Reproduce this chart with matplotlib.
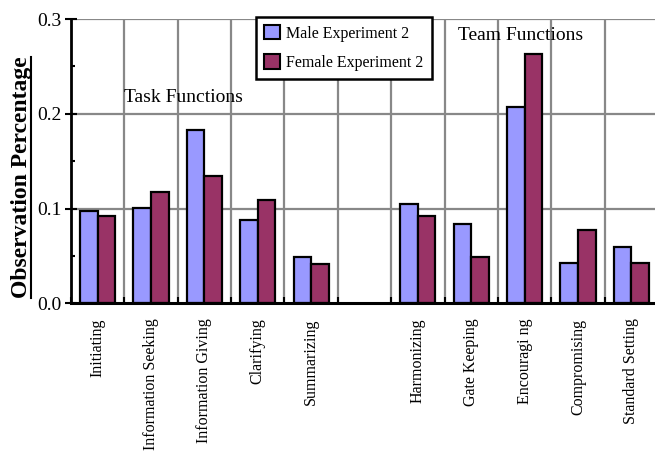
import matplotlib
matplotlib.use("Agg")
import matplotlib.pyplot as plt
from matplotlib.patches import Patch
from matplotlib.lines import Line2D
import numpy as np

plt.rcParams['font.family'] = ['Liberation Serif', 'DejaVu Serif']

categories = ["Initiating", "Information Seeking", "Information Giving", "Clarifying",
              "Summarizing", "", "Harmonizing", "Gate Keeping", "Encouragi ng",
              "Compromising", "Standard Setting"]
male = [0.097, 0.101, 0.183, 0.088, 0.049, np.nan, 0.105, 0.084, 0.207, 0.043, 0.059]
female = [0.092, 0.117, 0.134, 0.109, 0.041, np.nan, 0.092, 0.049, 0.263, 0.077, 0.043]
series_names = ["Male Experiment 2", "Female Experiment 2"]
male_color = "#9999FF"
female_color = "#993366"

fig = plt.figure(figsize=(6.55, 4.54), dpi=100)
W, H = 655, 454
ax = fig.add_axes([71 / W, 1 - 303.3 / H, 587 / W, 284.3 / H])

x = np.arange(len(categories))
bw = 0.33
ax.bar(x - bw / 2, male, bw, color=male_color, edgecolor="black", linewidth=1.6, zorder=3)
ax.bar(x + bw / 2, female, bw, color=female_color, edgecolor="black", linewidth=1.6, zorder=3)

ax.set_xlim(-0.5, len(categories) - 0.5)
ax.set_ylim(0, 0.3)

# vertical separators between categories
for b in np.arange(0.5, len(categories) - 0.5, 1.0):
    ax.axvline(b, color="#888888", linewidth=1.6, zorder=1)
for yv in [0.1, 0.2, 0.3]:
    ax.axhline(yv, color="#888888", linewidth=1.6, zorder=1)

ax.set_yticks([0.0, 0.1, 0.2, 0.3])
ax.set_yticklabels(["0.0", "0.1", "0.2", "0.3"], fontsize=14)
ax.set_yticks([0.05, 0.15, 0.25], minor=True)
ax.tick_params(axis="y", which="major", direction="inout", length=9, width=1.5, pad=2)
ax.tick_params(axis="y", which="minor", direction="in", length=3, width=1.5)

ax.set_xticks(np.arange(-0.5, len(categories), 1.0))
ax.set_xticklabels([])
ax.tick_params(axis="x", which="major", direction="in", length=4, width=1.5)
ax.set_xticks(x, minor=True)
ax.set_xticklabels(categories, minor=True, rotation=90, fontsize=11.5, va="top", ha="center")
ax.tick_params(axis="x", which="minor", length=0, pad=11)

for s in ["top", "right"]:
    ax.spines[s].set_visible(False)
ax.spines["left"].set_linewidth(2)
ax.spines["bottom"].set_linewidth(2.2)
ax.spines["left"].set_zorder(4)
ax.spines["bottom"].set_zorder(4)

ax.text(124 / W, 1 - 98 / H, "Task Functions", transform=fig.transFigure,
        fontsize=14, ha="left", va="center")
ax.text(458 / W, 1 - 35 / H, "Team Functions", transform=fig.transFigure,
        fontsize=14, ha="left", va="center")

handles = [Patch(facecolor=male_color, edgecolor="black", linewidth=1.5),
           Patch(facecolor=female_color, edgecolor="black", linewidth=1.5)]
leg = fig.legend(handles, series_names, loc="upper left",
                 bbox_to_anchor=(256 / W, 1 - 17 / H), bbox_transform=fig.transFigure,
                 fontsize=11.5, frameon=True, fancybox=False, framealpha=1,
                 edgecolor="black", handlelength=1.0, handleheight=1.0,
                 handletextpad=0.4, labelspacing=0.8, borderpad=0.5, borderaxespad=0)
leg.get_frame().set_linewidth(1.8)
leg.set_zorder(10)

ylab = fig.text(22 / W, 1 - 177.5 / H, "Observation Percentage", rotation=90,
                fontsize=17, fontweight="bold", ha="center", va="center")
fig.canvas.draw()
bb = ylab.get_window_extent().transformed(fig.transFigure.inverted())
ux = bb.x1 - 1.5 / W
fig.add_artist(Line2D([ux, ux], [bb.y0, bb.y1], transform=fig.transFigure,
                      color="black", linewidth=1.5))

fig.savefig("out.png", dpi=100)
